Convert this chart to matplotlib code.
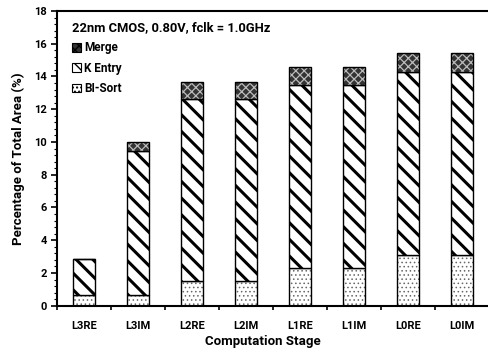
import matplotlib
matplotlib.use("Agg")
import matplotlib.pyplot as plt
import numpy as np
from matplotlib.patches import Patch
from matplotlib.ticker import MultipleLocator, FixedLocator

cats = ['L3RE', 'L3IM', 'L2RE', 'L2IM', 'L1RE', 'L1IM', 'L0RE', 'L0IM']
bisort = [0.65, 0.65, 1.5, 1.5, 2.3, 2.3, 3.1, 3.1]
kentry = [2.2, 8.8, 11.15, 11.15, 11.2, 11.2, 11.2, 11.2]
merge = [0.0, 0.57, 1.0, 1.0, 1.07, 1.07, 1.12, 1.12]
title_txt = '22nm CMOS, 0.80V, fclk = 1.0GHz'

plt.rcParams['font.family'] = ['Roboto', 'DejaVu Sans']
plt.rcParams['font.weight'] = 'bold'

fig = plt.figure(figsize=(4.88, 3.5), dpi=100)
L, R, B, T = 57, 489, 305.7, 11
ax = fig.add_axes([L/488, 1-B/350, (R-L)/488, (B-T)/350])

x = np.arange(len(cats))
w = 0.42
b1 = np.array(bisort)
b2 = b1 + np.array(kentry)

# BI-Sort: grey dots
with plt.rc_context({'hatch.linewidth': 0.6}):
    ax.bar(x, bisort, w, color='white', edgecolor='#666666', hatch='....', linewidth=0)
    dots_h = Patch(facecolor='white', edgecolor='#666666', hatch='....', linewidth=0)
ax.bar(x, bisort, w, color='none', edgecolor='black', linewidth=1.0)
# K Entry: bold diagonal stripes
with plt.rc_context({'hatch.linewidth': 2.2}):
    ax.bar(x, kentry, w, bottom=b1, color='white', edgecolor='black', hatch='\\\\', linewidth=0)
with plt.rc_context({'hatch.linewidth': 1.2}):
    stripe_h = Patch(facecolor='white', edgecolor='black', hatch='\\\\\\', linewidth=0)
ax.bar(x, kentry, w, bottom=b1, color='none', edgecolor='black', linewidth=1.0)
# Merge: dark checkered
with plt.rc_context({'hatch.linewidth': 0.9}):
    ax.bar(x, merge, w, bottom=b2, color='#333333', edgecolor='#bbbbbb', hatch='xxxx', linewidth=0)
    merge_h = Patch(facecolor='#333333', edgecolor='#bbbbbb', hatch='xxxx', linewidth=0)
ax.bar(x, merge, w, bottom=b2, color='none', edgecolor='black', linewidth=1.0)

ax.set_xlim(-0.5, 7.5)
ax.set_ylim(0, 18)
ax.yaxis.set_major_locator(MultipleLocator(2))
ax.yaxis.set_minor_locator(MultipleLocator(0.4))
ax.set_xticks(x)
ax.set_xticklabels(cats, fontsize=8, fontweight='bold')
ax.xaxis.set_minor_locator(FixedLocator(np.arange(-0.5, 8, 1)))
ax.tick_params(axis='x', which='major', length=0, pad=11)
ax.tick_params(axis='x', which='minor', length=3, width=1.2, direction='out')
ax.tick_params(axis='y', which='major', length=4, width=1.2, labelsize=8)
ax.tick_params(axis='y', which='minor', length=2, width=0.8)
for lab in ax.get_yticklabels():
    lab.set_fontweight('bold')

for s in ['left', 'bottom', 'top']:
    ax.spines[s].set_linewidth(1.5)
ax.spines['right'].set_visible(False)

ax.set_ylabel('Percentage of Total Area (%)', fontsize=9.5, fontweight='bold')
ax.yaxis.set_label_coords((18 - L) / (R - L), 0.5)
ax.set_xlabel('Computation Stage', fontsize=9.5, fontweight='bold')
ax.xaxis.set_label_coords((263 - L) / (R - L), -(342 - B) / (B - T))
ax.xaxis.label.set_va('center')
ax.yaxis.label.set_va('center')

handles = [merge_h, stripe_h, dots_h]
labels = ['Merge', 'K Entry', 'BI-Sort']
leg = ax.legend(handles, labels, loc='upper left', bbox_to_anchor=(0.018, 0.99),
                title=title_txt, frameon=False, fontsize=8.5,
                title_fontproperties={'weight': 'bold', 'size': 9.3},
                handlelength=0.75, handleheight=0.75, handletextpad=0.3,
                labelspacing=0.62, alignment='left', borderaxespad=0.3, borderpad=0.3)
for p in leg.get_patches():
    p.set_edgecolor('black')
    p.set_linewidth(0.8)

fig.savefig('out.png', dpi=100)
